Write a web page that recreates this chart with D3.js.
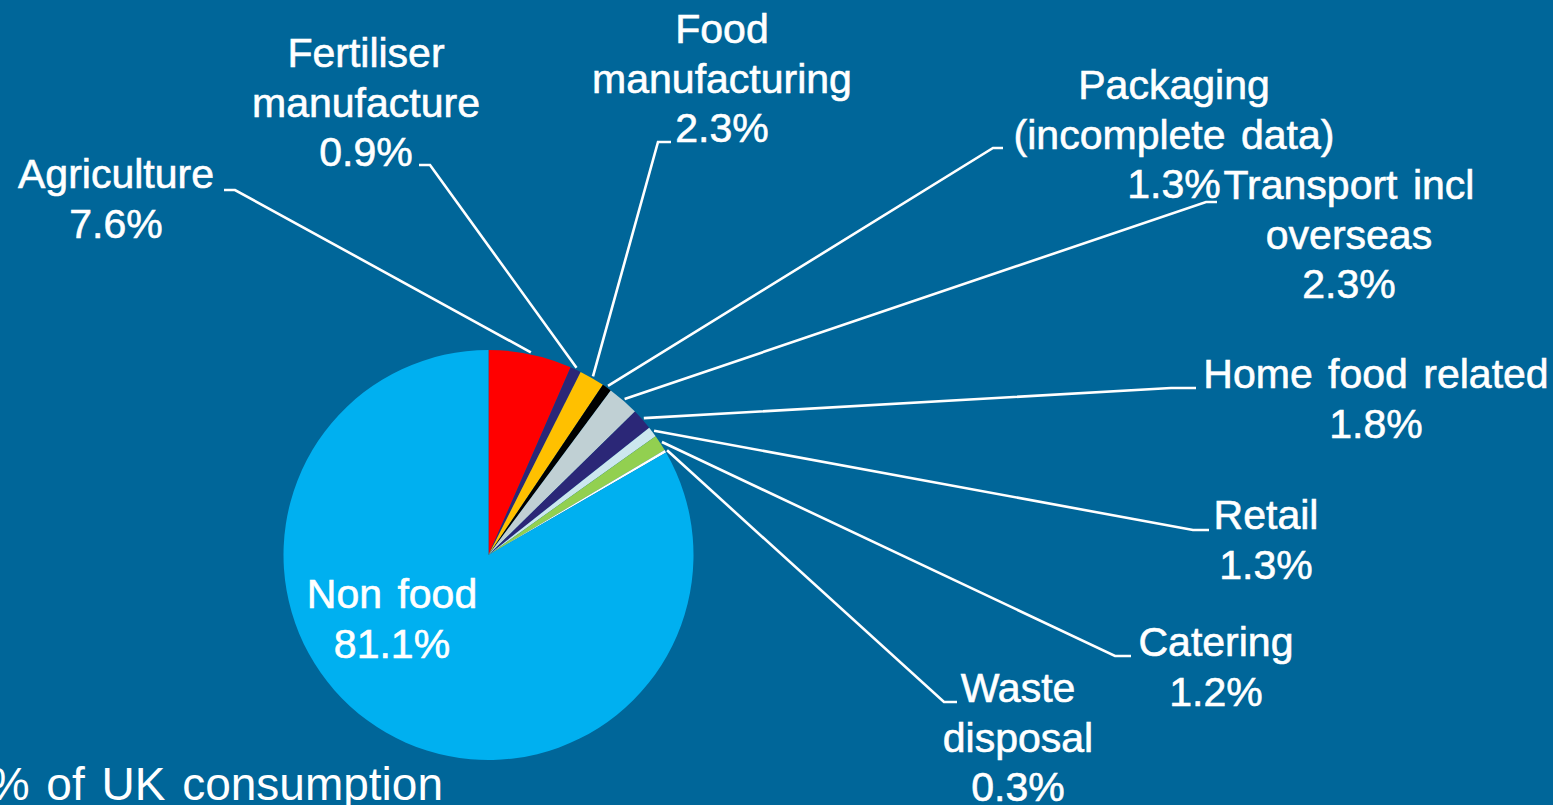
<!DOCTYPE html>
<html>
<head>
<meta charset="utf-8">
<script src="https://cdn.jsdelivr.net/npm/d3@7"></script>
<style>
  html, body { margin: 0; padding: 0; background: #006699; overflow: hidden; }
  svg { display: block; }
</style>
</head>
<body>
<svg id="chart" width="1553" height="805"></svg>
<script>
// ---- data ----
const categories = ["Agriculture", "Fertiliser manufacture", "Food manufacturing",
  "Packaging (incomplete data)", "Transport incl overseas", "Home food related",
  "Retail", "Catering", "Waste disposal", "Non food"];
// percentages printed on the labels
const labelValues = [7.6, 0.9, 2.3, 1.3, 2.3, 1.8, 1.3, 1.2, 0.3, 81.1];
// slice shares as drawn in the picture
const drawnShares = [6.56, 0.86, 2.0, 0.75, 2.5, 1.67, 0.83, 1.28, 0.22, 83.33];
const labelLines = [
  ["Agriculture"],
  ["Fertiliser", "manufacture"],
  ["Food", "manufacturing"],
  ["Packaging", "(incomplete data)"],
  ["Transport incl", "overseas"],
  ["Home food related"],
  ["Retail"],
  ["Catering"],
  ["Waste", "disposal"],
  ["Non food"]
];
const footnote = "% of UK consumption";

// ---- styles / layout ----
const colors = ["#FF0000", "#2B2777", "#FFC000", "#000000", "#C0D0D4",
  "#2B2777", "#CCE7EE", "#92D050", "#FFFFFF", "#00B0F0"];
// label anchor (centre x, first baseline) and leader elbow/end points
const labelLayout = [
  { cx: 116,  y: 188, elbow: [235, 190], end: [224, 190] },
  { cx: 366,  y: 67,  elbow: [430, 165], end: [419, 165] },
  { cx: 722,  y: 43,  elbow: [658, 142], end: [671, 142] },
  { cx: 1174, y: 99,  elbow: [993, 148], end: [1003, 148] },
  { cx: 1349, y: 199, elbow: [1206, 202], end: [1217, 202] },
  { cx: 1376, y: 388, elbow: [1171, 388], end: [1196, 388] },
  { cx: 1266, y: 529, elbow: [1193, 530], end: [1209, 530] },
  { cx: 1216, y: 656, elbow: [1115, 656], end: [1131, 656] },
  { cx: 1018, y: 702, elbow: [944, 702], end: [957, 702] },
  { cx: 392,  y: 608, elbow: null, end: null }
];

const W = 1553, H = 805;
const cx = 488.5, cy = 555, R = 205;
const lineH = 49.5;
const fontFamily = "'Liberation Sans', Arial, Helvetica, sans-serif";

const data = categories.map((c, i) => ({
  name: c, value: labelValues[i], share: drawnShares[i],
  color: colors[i], lines: labelLines[i], layout: labelLayout[i]
}));

const svg = d3.select("#chart");
svg.append("rect").attr("width", W).attr("height", H).attr("fill", "#006699");

const pie = d3.pie().sort(null).value(d => d.share).startAngle(0).endAngle(2 * Math.PI);
const arcs = pie(data);
const arc = d3.arc().innerRadius(0).outerRadius(R);
const edgeArc = d3.arc().innerRadius(R + 2).outerRadius(R + 2);

const g = svg.append("g").attr("transform", `translate(${cx},${cy})`);
g.selectAll("path.slice").data(arcs).join("path")
  .attr("class", "slice")
  .attr("d", arc)
  .attr("fill", d => d.data.color);

// leader lines
const fmt = d3.format(".1f");
svg.append("g").selectAll("path.leader")
  .data(arcs.filter(d => d.data.layout.elbow))
  .join("path")
  .attr("class", "leader")
  .attr("fill", "none")
  .attr("stroke", "#FFFFFF")
  .attr("stroke-width", 2.6)
  .attr("d", d => {
    const c = edgeArc.centroid(d);
    const s = [c[0] + cx, c[1] + cy];
    return d3.line()([s, d.data.layout.elbow, d.data.layout.end]);
  });

// labels
const labels = svg.append("g")
  .attr("font-family", fontFamily)
  .attr("font-size", 41)
  .attr("fill", "#FFFFFF")
  .attr("stroke", "#FFFFFF")
  .attr("stroke-width", 0.6)
  .attr("text-anchor", "middle")
  .style("word-spacing", "4px");

arcs.forEach(d => {
  const L = d.data.layout;
  const t = labels.append("text").attr("x", L.cx).attr("y", L.y);
  const all = d.data.lines.concat([fmt(d.data.value) + "%"]);
  all.forEach((ln, i) => {
    t.append("tspan").attr("x", L.cx).attr("y", L.y + i * lineH).text(ln);
  });
});

// footnote (clipped at the left edge as in the source)
svg.append("text")
  .attr("x", 443).attr("y", 800)
  .attr("text-anchor", "end")
  .attr("font-family", fontFamily)
  .attr("font-size", 46)
  .attr("fill", "#FFFFFF")
  .style("word-spacing", "4px")
  .text(footnote);
</script>
</body>
</html>
